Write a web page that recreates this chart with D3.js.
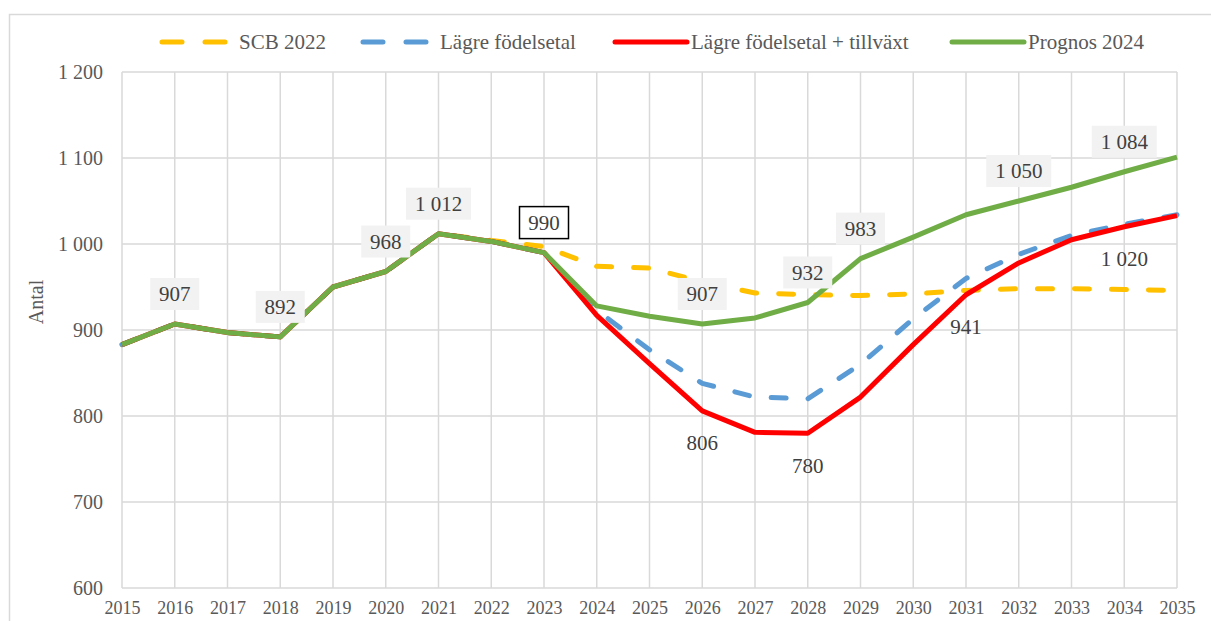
<!DOCTYPE html>
<html lang="sv">
<head>
<meta charset="utf-8">
<title>Prognos antal</title>
<script src="https://d3js.org/d3.v7.min.js"></script>
<style>
  body { margin: 0; background: #fff; }
  svg { display: block; }
  text { font-family: "Liberation Serif", "Times New Roman", serif; }
</style>
</head>
<body>
<div id="chart"></div>
<script>
const years = d3.range(2015, 2036);

// series values, 2015..2035
const scb2022 = [883, 907, 897, 892, 950, 968, 1012, 1004, 997, 974, 972, 956, 943, 941, 940, 942, 946, 948, 948, 947, 946];
const lagre = [883, 907, 897, 892, 950, 968, 1012, 1003, 990, 923, 877, 838, 822, 820, 860, 913, 960, 988, 1010, 1023, 1034];
const lagreTillvaxt = [883, 907, 897, 892, 950, 968, 1012, 1003, 990, 917, 861, 806, 781, 780, 822, 883, 941, 978, 1005, 1020, 1033];
const prognos = [883, 907, 897, 892, 950, 968, 1012, 1003, 990, 928, 916, 907, 914, 932, 983, 1008, 1034, 1050, 1066, 1084, 1101];

const yTicks = [600, 700, 800, 900, 1000, 1100, 1200];

// years that carry a data label
const prognosLabelYears = [2016, 2018, 2020, 2021, 2023, 2026, 2028, 2029, 2032, 2034];
const redLabelYears = [2026, 2028, 2031, 2034];

const series = [
  {name: "SCB 2022", values: scb2022, color: "#FFC000", dash: true},
  {name: "Lägre födelsetal", values: lagre, color: "#5B9BD5", dash: true},
  {name: "Lägre födelsetal + tillväxt", values: lagreTillvaxt, color: "#FF0000", dash: false},
  {name: "Prognos 2024", values: prognos, color: "#70AD47", dash: false}
];

const W = 1211, H = 621;
const sv = d3.formatLocale({decimal: ",", thousands: " ", grouping: [3], currency: ["", " kr"]});
const fmt = sv.format(",d");

const svg = d3.select("#chart").append("svg").attr("width", W).attr("height", H);

// outer chart frame
svg.append("rect").attr("x", 9.5).attr("y", 14.5).attr("width", W + 10).attr("height", H + 10)
  .attr("fill", "#fff").attr("stroke", "#d9d9d9").attr("stroke-width", 1.5);

const x = d3.scaleLinear().domain([2015, 2035]).range([122, 1177]);
const y = d3.scaleLinear().domain([600, 1200]).range([588, 72]);

// gridlines
const grid = svg.append("g").attr("stroke", "#d9d9d9").attr("stroke-width", 1.5);
grid.selectAll(".h").data(yTicks).join("line")
  .attr("x1", x(2015)).attr("x2", x(2035))
  .attr("y1", d => y(d)).attr("y2", d => y(d));
grid.selectAll(".v").data(years).join("line")
  .attr("x1", d => x(d)).attr("x2", d => x(d))
  .attr("y1", y(1200)).attr("y2", y(600));

// axes
const yAxis = svg.append("g").attr("transform", `translate(${x(2015)},0)`)
  .call(d3.axisLeft(y).tickValues(yTicks).tickFormat(fmt).tickSize(0).tickPadding(19));
yAxis.select(".domain").remove();
yAxis.selectAll("text").attr("font-size", 20).attr("fill", "#595959");

const xAxis = svg.append("g").attr("transform", `translate(0,${y(600)})`)
  .call(d3.axisBottom(x).tickValues(years).tickFormat(d3.format("d")).tickSize(0).tickPadding(13));
xAxis.select(".domain").remove();
xAxis.selectAll("text").attr("font-size", 18).attr("fill", "#595959");

svg.append("text").attr("transform", "translate(43,302) rotate(-90)")
  .attr("text-anchor", "middle").attr("font-size", 20).attr("fill", "#595959").text("Antal");

// lines
const line = d3.line().x((d, i) => x(years[i])).y(d => y(d));
svg.append("g").selectAll("path").data(series).join("path")
  .attr("d", d => line(d.values))
  .attr("fill", "none")
  .attr("stroke", d => d.color)
  .attr("stroke-width", 5)
  .attr("stroke-linejoin", "round")
  .attr("stroke-linecap", d => d.dash ? "round" : "butt")
  .attr("stroke-dasharray", d => d.dash ? "15,22" : null);

// data labels above Prognos 2024 (boxed)
const lbl = svg.append("g");
prognosLabelYears.forEach(yr => {
  const v = prognos[years.indexOf(yr)];
  const t = fmt(v);
  const cx = x(yr), cy = y(v) - 30;
  const w = t.length > 3 ? 65 : 49;
  const hl = yr === 2023;
  lbl.append("rect").attr("x", cx - w / 2).attr("y", cy - 16).attr("width", w).attr("height", 32)
    .attr("fill", hl ? "#fff" : "#f2f2f2")
    .attr("stroke", hl ? "#000" : "none").attr("stroke-width", 1.5);
  lbl.append("text").attr("x", cx).attr("y", cy).attr("dy", "0.35em")
    .attr("text-anchor", "middle").attr("font-size", 21).attr("fill", "#404040").text(t);
});

// data labels below the red series
redLabelYears.forEach(yr => {
  const v = lagreTillvaxt[years.indexOf(yr)];
  lbl.append("text").attr("x", x(yr)).attr("y", y(v) + 32).attr("dy", "0.35em")
    .attr("text-anchor", "middle").attr("font-size", 21).attr("fill", "#404040").text(fmt(v));
});

// legend
const legendPos = [162, 363, 615, 952];
const leg = svg.append("g");
series.forEach((s, i) => {
  const lx = legendPos[i], ly = 42;
  leg.append("line").attr("x1", lx).attr("x2", lx + (s.dash ? 65 : 72)).attr("y1", ly).attr("y2", ly)
    .attr("stroke", s.color).attr("stroke-width", 5)
    .attr("stroke-linecap", "round")
    .attr("stroke-dasharray", s.dash ? "20,23" : null);
  leg.append("text").attr("x", lx + (s.dash ? 77 : 76)).attr("y", ly).attr("dy", "0.35em")
    .attr("font-size", 21).attr("fill", "#595959").text(s.name);
});
</script>
</body>
</html>
